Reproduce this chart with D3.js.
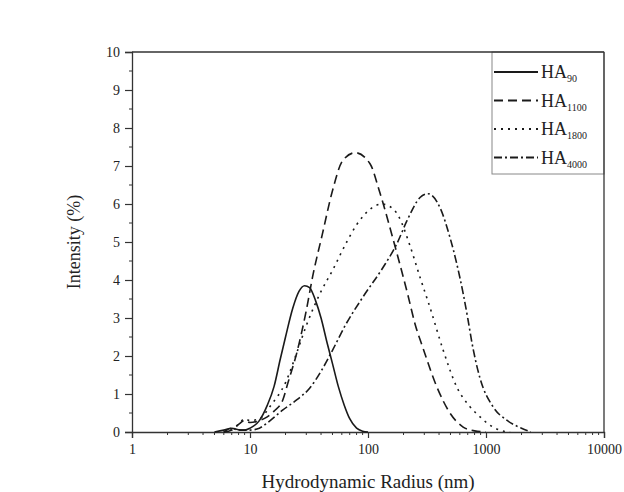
<!DOCTYPE html>
<html>
<head>
<meta charset="utf-8">
<script src="https://cdn.jsdelivr.net/npm/d3@7"></script>
<style>
  body { margin: 0; background: #fff; }
  svg text { font-family: "Liberation Serif", "Times New Roman", serif; fill: #222; }
</style>
</head>
<body>
<div id="chart"></div>
<script>
// Series data: hydrodynamic radius (nm) and intensity (%)
var ha90_r = [5, 6, 7, 8, 9, 10, 12, 14, 16, 18, 20, 23, 26, 29, 32, 36, 40, 45, 50, 56, 63, 70, 80, 90, 100];
var ha90_v = [0, 0.05, 0.1, 0.06, 0.05, 0.1, 0.3, 0.7, 1.2, 1.9, 2.5, 3.25, 3.7, 3.85, 3.8, 3.45, 3.0, 2.35, 1.8, 1.2, 0.7, 0.35, 0.1, 0.02, 0];

var ha1100_r = [6, 7, 8, 9, 10, 12, 14, 16, 19, 21, 25, 30, 34, 41, 50, 61, 78, 104, 126, 169, 218, 250, 293, 384, 495, 640, 800, 1000];
var ha1100_v = [0, 0.05, 0.2, 0.3, 0.25, 0.3, 0.4, 0.55, 0.85, 1.3, 2.1, 3.2, 4.1, 5.2, 6.35, 7.14, 7.35, 7.06, 6.3, 4.9, 3.6, 2.85, 2.2, 1.18, 0.5, 0.13, 0.03, 0];

var ha1800_r = [6, 8, 9, 10, 12, 15, 20, 25, 30, 40, 50, 66, 80, 108, 130, 150, 180, 227, 276, 335, 434, 566, 734, 890, 1080, 1300, 1600];
var ha1800_v = [0, 0.2, 0.35, 0.3, 0.35, 0.7, 1.3, 2.1, 2.8, 3.7, 4.25, 5.0, 5.45, 5.9, 6.0, 5.95, 5.7, 4.9, 4.07, 3.28, 2.15, 1.18, 0.66, 0.4, 0.18, 0.05, 0];

var ha4000_r = [6, 7, 8, 10, 12, 14, 19, 25, 32, 40, 50, 64, 90, 134, 176, 214, 276, 322, 408, 495, 565, 640, 700, 760, 885, 1150, 1500, 2000, 2400];
var ha4000_v = [0, 0.1, 0.05, 0.05, 0.1, 0.24, 0.58, 0.85, 1.15, 1.6, 2.15, 2.8, 3.54, 4.33, 4.96, 5.56, 6.17, 6.27, 5.9, 5.12, 4.43, 3.65, 3.0, 2.35, 1.44, 0.66, 0.31, 0.1, 0];

var seriesNames = ["90", "1100", "1800", "4000"];
var xTicks = [1, 10, 100, 1000, 10000];
var yTicks = [0, 1, 2, 3, 4, 5, 6, 7, 8, 9, 10];

var width = 624, height = 492;
var margin = { left: 132, right: 20, top: 52, bottom: 60 };

var svg = d3.select("#chart").append("svg")
    .attr("width", width)
    .attr("height", height);

// scales
var xScale = d3.scaleLog().domain([1, 10000]).range([margin.left, width - margin.right]);
var yScale = d3.scaleLinear().domain([0, 10]).range([height - margin.bottom, margin.top]);

var x0 = margin.left, x1 = width - margin.right;
var y0 = height - margin.bottom, y1 = margin.top;

// x axis with minor ticks
var xMinor = [];
for (var d = 1; d < 10000; d *= 10) {
    for (var k = 2; k <= 9; k++) xMinor.push(d * k);
}
var xAxis = svg.append("g")
    .attr("transform", "translate(0," + y0 + ")");
xAxis.selectAll("line.minor").data(xMinor).enter().append("line")
    .attr("x1", function(d) { return xScale(d); })
    .attr("x2", function(d) { return xScale(d); })
    .attr("y1", 0).attr("y2", 3)
    .attr("stroke", "#333").attr("stroke-width", 1);
xAxis.call(d3.axisBottom(xScale).tickValues(xTicks).tickFormat(d3.format("d")).tickSize(6).tickPadding(6));
xAxis.select(".domain").attr("stroke", "#333").attr("stroke-width", 1.3);
xAxis.selectAll(".tick line").attr("stroke", "#333").attr("stroke-width", 1.2);
xAxis.selectAll(".tick text").style("font-size", "14px").attr("fill", "#222");

// y axis with minor ticks
var yMinor = d3.range(0.5, 10, 1);
var yAxis = svg.append("g")
    .attr("transform", "translate(" + x0 + ",0)");
yAxis.selectAll("line.minor").data(yMinor).enter().append("line")
    .attr("y1", function(d) { return yScale(d); })
    .attr("y2", function(d) { return yScale(d); })
    .attr("x1", 0).attr("x2", -3)
    .attr("stroke", "#333").attr("stroke-width", 1);
yAxis.call(d3.axisLeft(yScale).tickValues(yTicks).tickSize(7).tickPadding(5));
yAxis.select(".domain").attr("stroke", "#333").attr("stroke-width", 1.3);
yAxis.selectAll(".tick line").attr("stroke", "#333").attr("stroke-width", 1.2);
yAxis.selectAll(".tick text").style("font-size", "14px").attr("fill", "#222");

// axis titles
svg.append("text")
    .attr("x", (x0 + x1) / 2)
    .attr("y", 488)
    .attr("text-anchor", "middle")
    .style("font-size", "19px")
    .text("Hydrodynamic Radius (nm)");

svg.append("text")
    .attr("transform", "translate(80," + ((y0 + y1) / 2) + ")rotate(-90)")
    .attr("text-anchor", "middle")
    .style("font-size", "18px")
    .text("Intensity (%)");

// lines
var dashes = ["none", "9,5", "2,5", "8,3,2,3"];
var series = [
    { r: ha90_r, v: ha90_v },
    { r: ha1100_r, v: ha1100_v },
    { r: ha1800_r, v: ha1800_v },
    { r: ha4000_r, v: ha4000_v }
];

var line = d3.line()
    .x(function(d) { return xScale(d[0]); })
    .y(function(d) { return yScale(d[1]); })
    .curve(d3.curveMonotoneX);

series.forEach(function(s, i) {
    var pts = s.r.map(function(r, j) { return [r, s.v[j]]; });
    svg.append("path")
        .datum(pts)
        .attr("fill", "none")
        .attr("stroke", "#1a1a1a")
        .attr("stroke-width", 1.6)
        .attr("stroke-dasharray", dashes[i])
        .attr("d", line);
});

// legend
var lg = svg.append("g");
lg.append("rect")
    .attr("x", 492).attr("y", y1)
    .attr("width", x1 - 492).attr("height", 122)
    .attr("fill", "#fff")
    .attr("stroke", "#888").attr("stroke-width", 1);

// frame edges (top + right), drawn over the legend box
svg.append("line").attr("x1", x1).attr("x2", x1).attr("y1", y1).attr("y2", y0)
    .attr("stroke", "#333").attr("stroke-width", 1.3);
svg.append("line").attr("x1", x0).attr("x2", x1).attr("y1", y1).attr("y2", y1)
    .attr("stroke", "#333").attr("stroke-width", 1.3);

seriesNames.forEach(function(name, i) {
    var ly = 72 + i * 28.5;
    lg.append("line")
        .attr("x1", 494).attr("x2", 538)
        .attr("y1", ly).attr("y2", ly)
        .attr("stroke", "#1a1a1a").attr("stroke-width", 1.8)
        .attr("stroke-dasharray", dashes[i]);
    var t = lg.append("text")
        .attr("x", 541).attr("y", ly + 6)
        .style("font-size", "18px");
    t.append("tspan").text("HA");
    t.append("tspan").attr("dy", 4).style("font-size", "10px").text(name);
});
</script>
</body>
</html>
